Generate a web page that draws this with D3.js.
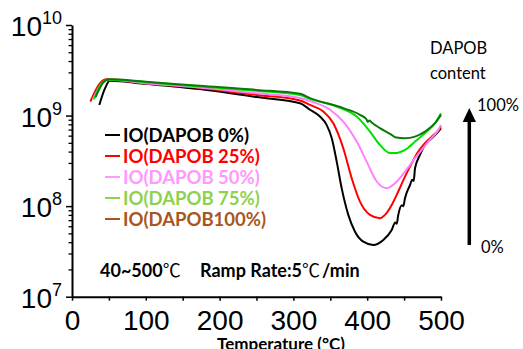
<!DOCTYPE html>
<html>
<head>
<meta charset="utf-8">
<script src="https://cdn.jsdelivr.net/npm/d3@7"></script>
<style>
  body { margin: 0; background: #fff; }
  svg { display: block; }
  text { font-family: "Liberation Sans", Arial, sans-serif; }
  .bold { font-family: Lato, "Open Sans", sans-serif; font-weight: 700; }
  .note { font-family: Lato, "Open Sans", sans-serif; }
  .cjk { font-family: "Noto Sans CJK SC", sans-serif; font-weight: 400; }
</style>
</head>
<body>
<svg id="chart" width="523" height="349"></svg>
<script>
// temperature (°C) and conductivity-ish values
var black0 = [[37,1.31e9],[45,2.02e9],[51,2.42e9],[100,2.24e9],[173,1.96e9],[250,1.60e9],[309,1.37e9],
  [322.5,1.16e9],[336,9.75e8],[345,7.89e8],[352,5.62e8],[358.7,3.10e8],[365.4,1.58e8],[374.4,8.0e7],
  [383.5,5.22e7],[394.7,4.05e7],[408.3,3.73e7],[421.8,4.24e7],[433.2,5.46e7],[438,6.6e7],[440,6.4e7],
  [442.1,8.0e7],[447,1.02e8],[449,1.0e8],[451.2,1.22e8],[458,1.71e8],[461,1.95e8],[463,1.9e8],
  [464.8,2.62e8],[471.5,3.68e8],[478.3,4.74e8],[487.4,5.62e8],[496.3,6.65e8],[500,7.26e8]];
var red25 = [[25,1.43e9],[38,2.28e9],[47,2.51e9],[100,2.27e9],[173,2.02e9],[250,1.69e9],[309,1.47e9],
  [322.5,1.31e9],[340.5,1.11e9],[354.1,8.24e8],[367.6,4.36e8],[379,2.03e8],[390.2,1.12e8],[403.8,8.0e7],
  [417.3,7.35e7],[424.1,8.0e7],[433.2,1.03e8],[442.1,1.45e8],[451.2,2.12e8],[460.3,2.98e8],[469.2,4.0e8],
  [478.3,4.95e8],[487.4,5.86e8],[498.6,7.26e8],[500,7.6e8]];
var pink50 = [[28,1.49e9],[40,2.24e9],[50,2.48e9],[100,2.27e9],[173,2.04e9],[250,1.76e9],[309,1.56e9],
  [322.5,1.45e9],[349.6,1.16e9],[367.6,8.59e8],[385.8,5.16e8],[399.3,3.10e8],[412.9,1.87e8],[426.4,1.58e8],
  [437.7,1.79e8],[451.2,2.40e8],[464.8,3.38e8],[473.8,4.18e8],[482.8,5.16e8],[496.3,6.95e8],[500,7.89e8]];
var green75 = [[30,1.52e9],[40,2.28e9],[49,2.48e9],[100,2.33e9],[173,2.09e9],[250,1.88e9],[309,1.69e9],
  [322.5,1.53e9],[358.7,1.26e9],[385.8,9.75e8],[403.8,6.65e8],[417.3,4.74e8],[430.9,3.85e8],[437.7,3.85e8],
  [451.2,4.18e8],[464.8,5.16e8],[478.3,6.40e8],[491.9,8.24e8],[500,1.06e9]];
var dgreen100 = [[32,1.6e9],[42,2.3e9],[50,2.51e9],[100,2.36e9],[173,2.13e9],[250,1.92e9],[309,1.74e9],
  [322.5,1.56e9],[367.6,1.21e9],[390.2,1.02e9],[399,9.1e8],[401,8.5e8],[403,8.8e8],[406,8.4e8],
  [417.3,7.26e8],[433.2,6.12e8],[437.7,5.77e8],[451.2,5.62e8],[464.8,5.86e8],[478.3,6.65e8],
  [491.9,8.24e8],[500,1.02e9]];

var seriesData = [black0, red25, pink50, green75, dgreen100];
var seriesColors = ["#000000", "#ff0000", "#ff80ff", "#00e000", "#0b780b"];
var legendNames = ["IO(DAPOB 0%)", "IO(DAPOB 25%)", "IO(DAPOB 50%)", "IO(DAPOB 75%)", "IO(DAPOB100%)"];
var legendColors = ["#000000", "#ff0000", "#ff99ff", "#8fd14f", "#a8561d"];
var xTicks = [0, 50, 100, 150, 200, 250, 300, 350, 400, 450, 500];
var yDecades = [7, 8, 9, 10];

var svg = d3.select("#chart");
var x = d3.scaleLinear().domain([0, 500]).range([72, 441]);
var y = d3.scaleLog().domain([1e7, 1e10]).range([296.7, 25]);

// curves
var line = d3.line()
  .x(function (d) { return x(d[0]); })
  .y(function (d) { return y(d[1]); })
  .curve(d3.curveMonotoneX);

svg.selectAll("path.curve").data(seriesData).enter()
  .append("path")
  .attr("class", "curve")
  .attr("fill", "none")
  .attr("stroke", function (d, i) { return seriesColors[i]; })
  .attr("stroke-width", 2)
  .attr("d", line);

// x axis
var xAxis = svg.append("g")
  .attr("transform", "translate(0," + y(1e7) + ")")
  .call(d3.axisBottom(x).tickValues(xTicks).tickSize(4).tickSizeOuter(0)
    .tickFormat(function (d) { return d % 100 === 0 ? d : ""; }));
xAxis.select(".domain").attr("stroke-width", 2);
xAxis.selectAll(".tick line").attr("stroke-width", 1.5);
xAxis.selectAll(".tick text").attr("font-size", 28).attr("dy", "0.95em")
  .attr("font-family", "'Liberation Sans', Arial, sans-serif").attr("fill", "#000");

// y axis: minor ticks then majors
var minor = [];
yDecades.slice(0, 3).forEach(function (e) {
  for (var k = 2; k <= 9; k++) minor.push(k * Math.pow(10, e));
});
var yMinor = svg.append("g").attr("transform", "translate(" + x(0) + ",0)")
  .call(d3.axisLeft(y).tickValues(minor).tickSize(3.5).tickFormat(""));
yMinor.select(".domain").remove();
yMinor.selectAll(".tick line").attr("stroke-width", 1.3);

var yAxis = svg.append("g").attr("transform", "translate(" + x(0) + ",0)")
  .call(d3.axisLeft(y).tickValues(yDecades.map(function (e) { return Math.pow(10, e); }))
    .tickSize(6).tickSizeOuter(0).tickFormat(""));
yAxis.select(".domain").attr("stroke-width", 2);
yAxis.selectAll(".tick line").attr("stroke-width", 1.5);

yDecades.forEach(function (e) {
  var t = svg.append("text")
    .attr("x", 62).attr("y", y(Math.pow(10, e)) + 11)
    .attr("text-anchor", "end").attr("font-size", 28).attr("fill", "#000");
  t.append("tspan").text("10");
  t.append("tspan").attr("font-size", 18).attr("dy", -12).text(e);
});

svg.append("text").attr("class", "bold")
  .attr("x", 281).attr("y", 350).attr("text-anchor", "middle")
  .attr("font-size", 17).text("Temperature (°C)");

// legend
legendNames.forEach(function (name, i) {
  var ly = 135 + i * 21;
  svg.append("line").attr("x1", 105).attr("x2", 120).attr("y1", ly).attr("y2", ly)
    .attr("stroke", legendColors[i]).attr("stroke-width", 2);
  svg.append("text").attr("class", "bold")
    .attr("x", 123).attr("y", ly + 6.5).attr("font-size", 18.5)
    .attr("fill", legendColors[i]).text(name);
});

// ramp note, ℃ drawn with a CJK font as in the original
var n1 = svg.append("text").attr("class", "bold").attr("x", 100).attr("y", 277).attr("font-size", 18);
n1.append("tspan").text("40~500");
n1.append("tspan").attr("class", "cjk").text("\u2103");
var n2 = svg.append("text").attr("class", "bold").attr("x", 200).attr("y", 277).attr("font-size", 18);
n2.append("tspan").text("Ramp Rate:5");
n2.append("tspan").attr("class", "cjk").text("\u2103");
n2.append("tspan").attr("dx", 2).text("/min");

// right-side content arrow
svg.append("text").attr("class", "note").attr("x", 430).attr("y", 54).attr("font-size", 16.5).text("DAPOB");
svg.append("text").attr("class", "note").attr("x", 430).attr("y", 79).attr("font-size", 16.5).text("content");
svg.append("text").attr("class", "note").attr("x", 477).attr("y", 111).attr("font-size", 16.5).text("100%");
svg.append("text").attr("class", "note").attr("x", 481).attr("y", 253).attr("font-size", 16.5).text("0%");
svg.append("line").attr("x1", 469.3).attr("x2", 469.3).attr("y1", 245).attr("y2", 118)
  .attr("stroke", "#000").attr("stroke-width", 3.5);
svg.append("path").attr("d", "M462.7,122L476,122L469.3,108Z").attr("fill", "#000");
</script>
</body>
</html>
